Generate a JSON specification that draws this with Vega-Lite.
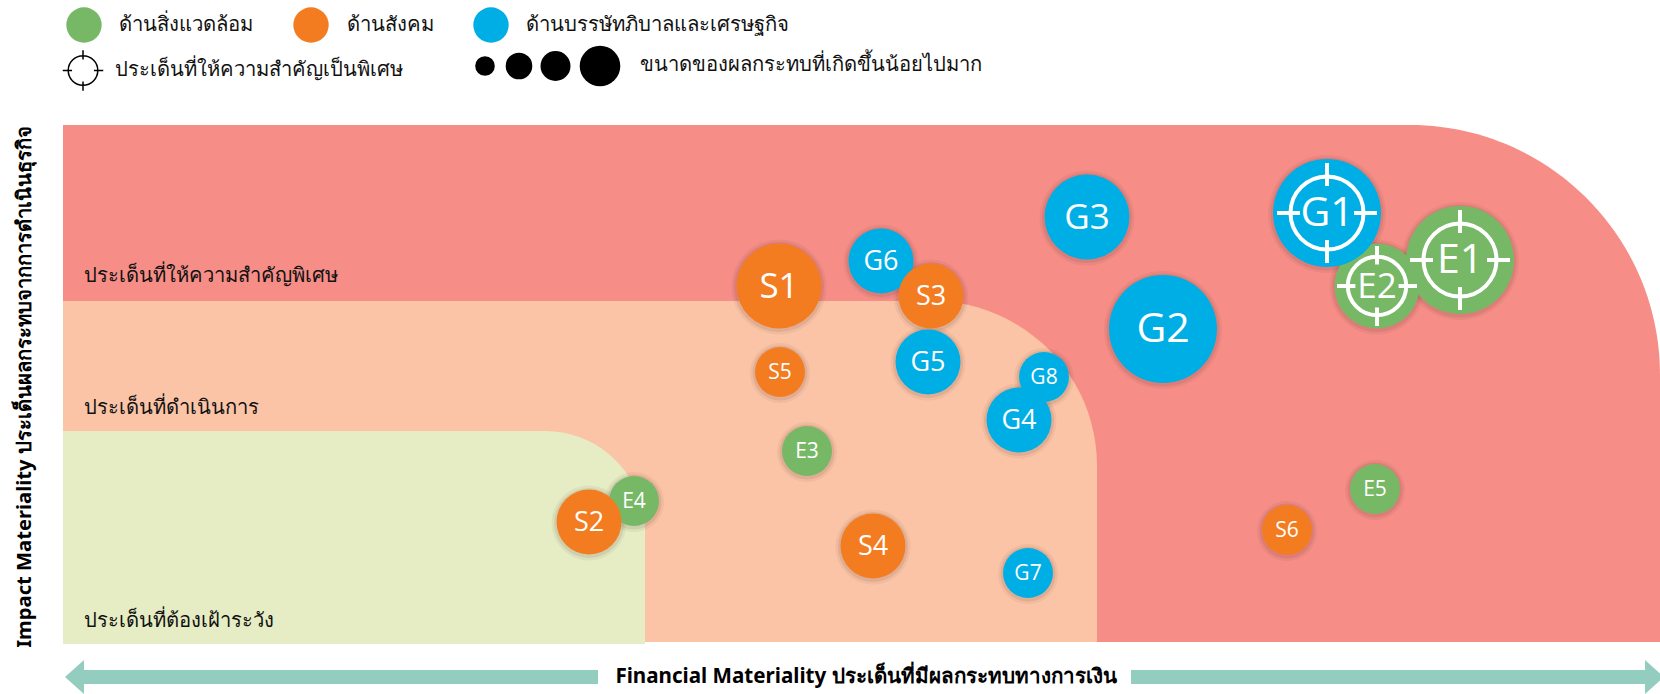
{
"$schema":"https://vega.github.io/schema/vega-lite/v6.json",
"width":1660,"height":694,"padding":0,"autosize":{"type":"none"},"background":"#ffffff",
"config":{"view":{"stroke":null},"font":"Noto Sans"},
"datasets":{
"zones":[
{"zone":"สูง","x0":63,"x1":1660,"y0":125,"y1":642}
],
"zoneMid":[{"zone":"กลาง","x0":63,"x1":1097,"y0":301,"y1":642}],
"zoneLow":[{"zone":"ต่ำ","x0":63,"x1":645,"y0":431,"y1":644}],
"bubbles":[
{"id":"E4","cat":"env","level":1,"x":634,"y":501},
{"id":"S2","cat":"soc","level":2,"x":589,"y":522},
{"id":"E3","cat":"env","level":1,"x":807,"y":451},
{"id":"S5","cat":"soc","level":1,"x":780,"y":372},
{"id":"S4","cat":"soc","level":2,"x":873,"y":546},
{"id":"G7","cat":"gov","level":1,"x":1028,"y":573},
{"id":"S6","cat":"soc","level":1,"x":1287,"y":530},
{"id":"E5","cat":"env","level":1,"x":1375,"y":489},
{"id":"G8","cat":"gov","level":1,"x":1044,"y":377},
{"id":"G4","cat":"gov","level":2,"x":1019,"y":420},
{"id":"G5","cat":"gov","level":2,"x":928,"y":362},
{"id":"G6","cat":"gov","level":2,"x":881,"y":261},
{"id":"S3","cat":"soc","level":2,"x":931,"y":296},
{"id":"S1","cat":"soc","level":3,"x":779,"y":286},
{"id":"G3","cat":"gov","level":3,"x":1087,"y":217},
{"id":"G2","cat":"gov","level":4,"x":1163,"y":329},
{"id":"E2","cat":"env","level":3,"x":1377,"y":286},
{"id":"E1","cat":"env","level":4,"x":1460,"y":260},
{"id":"G1","cat":"gov","level":4,"x":1327,"y":213}
],
"focus":[
{"id":"G1","level":4,"x":1327,"y":213},
{"id":"E1","level":4,"x":1460,"y":260},
{"id":"E2","level":3,"x":1377,"y":286}
],
"swatches":[
{"cat":"env","x":84,"y":25,"name":"ด้านสิ่งแวดล้อม","tx":119},
{"cat":"soc","x":311,"y":25,"name":"ด้านสังคม","tx":347},
{"cat":"gov","x":491,"y":25,"name":"ด้านบรรษัทภิบาลและเศรษฐกิจ","tx":526}
],
"sizes":[
{"level":1,"x":485,"y":66},
{"level":2,"x":519,"y":66},
{"level":3,"x":555.5,"y":66},
{"level":4,"x":600,"y":66}
],
"notes":[
{"t":"ประเด็นที่ให้ความสำคัญเป็นพิเศษ","x":115,"y":70},
{"t":"ขนาดของผลกระทบที่เกิดขึ้นน้อยไปมาก","x":640,"y":65},
{"t":"ประเด็นที่ให้ความสำคัญพิเศษ","x":84,"y":276},
{"t":"ประเด็นที่ดำเนินการ","x":84,"y":408},
{"t":"ประเด็นที่ต้องเฝ้าระวัง","x":84,"y":621}
],
"arrows":[
{"x0":84,"x1":598,"y0":670,"y1":684},
{"x0":1131,"x1":1645,"y0":670,"y1":684}
]
},
"encoding":{
"x":{"field":"x","type":"quantitative","scale":{"domain":[0,1660]},"axis":null},
"y":{"field":"y","type":"quantitative","scale":{"domain":[694,0]},"axis":null}
},
"resolve":{"scale":{"size":"independent"}},
"layer":[
{"data":{"name":"zones"},"mark":{"type":"rect","color":"#F68E87","cornerRadiusTopRight":250},
 "encoding":{"x":{"field":"x0","type":"quantitative","scale":{"domain":[0,1660]},"axis":null},"x2":{"field":"x1"},"y":{"field":"y0","type":"quantitative","scale":{"domain":[694,0]},"axis":null},"y2":{"field":"y1"}}},
{"data":{"name":"zoneMid"},"mark":{"type":"rect","color":"#FBC4A6","cornerRadiusTopRight":165},
 "encoding":{"x":{"field":"x0","type":"quantitative","scale":{"domain":[0,1660]},"axis":null},"x2":{"field":"x1"},"y":{"field":"y0","type":"quantitative","scale":{"domain":[694,0]},"axis":null},"y2":{"field":"y1"}}},
{"data":{"name":"zoneLow"},"mark":{"type":"rect","color":"#E6EDC4","cornerRadiusTopRight":100},
 "encoding":{"x":{"field":"x0","type":"quantitative","scale":{"domain":[0,1660]},"axis":null},"x2":{"field":"x1"},"y":{"field":"y0","type":"quantitative","scale":{"domain":[694,0]},"axis":null},"y2":{"field":"y1"}}},
{"data":{"name":"arrows"},"mark":{"type":"rect","color":"#93CDBF"},
 "encoding":{"x":{"field":"x0","type":"quantitative","scale":{"domain":[0,1660]},"axis":null},"x2":{"field":"x1"},"y":{"field":"y0","type":"quantitative","scale":{"domain":[694,0]},"axis":null},"y2":{"field":"y1"}}},
{"data":{"values":[{"x":84,"y":677}]},"mark":{"type":"point","filled":true,"opacity":1,"color":"#93CDBF","size":1156,"shape":"M0,-1 L0,1 L-1.12,0 Z"}},
{"data":{"values":[{"x":1645,"y":677}]},"mark":{"type":"point","filled":true,"opacity":1,"color":"#93CDBF","size":1156,"shape":"M0,-1 L0,1 L1.12,0 Z"}},
{"data":{"name":"bubbles"},"mark":{"type":"point","filled":true,"opacity":0.05,"color":"#301010","yOffset":1},
 "encoding":{"size":{"field":"level","type":"ordinal","legend":null,"scale":{"type":"ordinal","domain":[1,2,3,4],"range":[3600,5625,9025,13924]}}}},
{"data":{"name":"bubbles"},"mark":{"type":"point","filled":true,"opacity":0.08,"color":"#301010","yOffset":1},
 "encoding":{"size":{"field":"level","type":"ordinal","legend":null,"scale":{"type":"ordinal","domain":[1,2,3,4],"range":[3025,4900,8100,12769]}}}},
{"data":{"name":"bubbles"},"mark":{"type":"point","filled":true,"opacity":1},
 "encoding":{
  "color":{"field":"cat","type":"nominal","legend":null,"scale":{"domain":["env","soc","gov"],"range":["#76B865","#F47C20","#00AEE6"]}},
  "size":{"field":"level","type":"ordinal","legend":null,"scale":{"type":"ordinal","domain":[1,2,3,4],"range":[2500,4225,7225,11664]}}}},
{"data":{"name":"focus"},"mark":{"type":"point","filled":false,"opacity":1,"stroke":"#ffffff","strokeWidth":4,"shape":"M-0.73,0 A0.73,0.73 0 1 1 0.73,0 A0.73,0.73 0 1 1 -0.73,0 Z M0,-1 L0,-0.54 M0,1 L0,0.54 M-1,0 L-0.54,0 M1,0 L0.54,0"},
 "encoding":{"size":{"field":"level","type":"ordinal","legend":null,"scale":{"type":"ordinal","domain":[3,4],"range":[6400,10000]}}}},
{"data":{"name":"bubbles"},"mark":{"type":"text","color":"#ffffff","font":"Open Sans","align":"center","baseline":"middle","dy":1},
 "encoding":{"text":{"field":"id"},"size":{"field":"level","type":"ordinal","legend":null,"scale":{"type":"ordinal","domain":[1,2,3,4],"range":[21,27,35,41]}}}},
{"data":{"name":"swatches"},"mark":{"type":"point","filled":true,"opacity":1,"size":1253},
 "encoding":{"color":{"field":"cat","type":"nominal","legend":null,"scale":{"domain":["env","soc","gov"],"range":["#76B865","#F47C20","#00AEE6"]}}}},
{"data":{"name":"swatches"},"mark":{"type":"text","color":"#111111","fontSize":20.3,"align":"left","baseline":"middle"},
 "encoding":{"x":{"field":"tx","type":"quantitative","scale":{"domain":[0,1660]},"axis":null},"text":{"field":"name"}}},
{"data":{"name":"sizes"},"mark":{"type":"point","filled":true,"opacity":1,"color":"#000000"},
 "encoding":{"size":{"field":"level","type":"ordinal","legend":null,"scale":{"type":"ordinal","domain":[1,2,3,4],"range":[384,708,900,1648]}}}},
{"data":{"values":[{"x":83,"y":70.5}]},"mark":{"type":"point","filled":false,"opacity":1,"stroke":"#000000","strokeWidth":1.5,"size":1640,"shape":"M-0.73,0 A0.73,0.73 0 1 1 0.73,0 A0.73,0.73 0 1 1 -0.73,0 Z M0,-1 L0,-0.54 M0,1 L0,0.54 M-1,0 L-0.54,0 M1,0 L0.54,0"}},
{"data":{"name":"notes"},"mark":{"type":"text","color":"#111111","fontSize":20.2,"align":"left","baseline":"middle"},
 "encoding":{"text":{"field":"t"}}},
{"data":{"values":[{"x":866,"y":677,"t":"Financial Materiality ประเด็นที่มีผลกระทบทางการเงิน"}]},"mark":{"type":"text","color":"#000000","fontSize":20.6,"fontWeight":"bold","align":"center","baseline":"middle"},
 "encoding":{"text":{"field":"t"}}},
{"data":{"values":[{"x":25,"y":387,"t":"Impact Materiality ประเด็นผลกระทบจากการดำเนินธุรกิจ"}]},"mark":{"type":"text","color":"#000000","fontSize":20.2,"fontWeight":"bold","align":"center","baseline":"middle","angle":270},
 "encoding":{"text":{"field":"t"}}}
]
}
